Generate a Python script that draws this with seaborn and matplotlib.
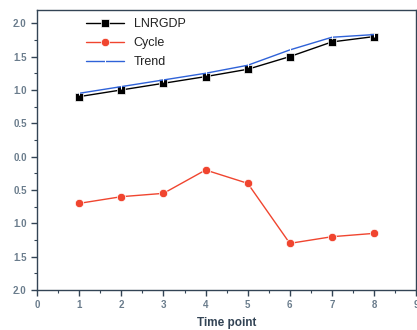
import pandas as pd
import numpy as np
import matplotlib.pyplot as plt
import seaborn as sns

# valores
time_point = [1, 2, 3, 4, 5, 6, 7, 8]
lnrgdp = [0.90, 1.00, 1.10, 1.20, 1.31, 1.50, 1.72, 1.80]
cycle = [-0.70, -0.60, -0.55, -0.20, -0.40, -1.30, -1.20, -1.15]
trend = [0.95, 1.05, 1.15, 1.25, 1.37, 1.60, 1.79, 1.83]

y_ticks = [2.0, 1.5, 1.0, 0.5, 0.0, -0.5, -1.0, -1.5, -2.0]
y_tick_labels = ["2.0", "1.5", "1.0", "0.5", "0.0", "0.5", "1.0", "1.5", "2.0"]
x_ticks = [0, 1, 2, 3, 4, 5, 6, 7, 8, 9]

sns.set_style("ticks")
plt.rcParams["font.family"] = ["Liberation Sans", "DejaVu Sans"]

fig = plt.figure(figsize=(4.17, 3.3), dpi=100)
ax = fig.add_axes([0.089, 0.121, 0.909, 0.849])

# una llamada por serie (marcadores distintos)
sns.lineplot(x=time_point, y=lnrgdp, color="black", marker="s", markersize=5.5,
             markeredgewidth=0.5, linewidth=1.0, label="LNRGDP", ax=ax)
sns.lineplot(x=time_point, y=cycle, color="#f0452f", marker="o", markersize=6,
             markeredgewidth=0.5, linewidth=1.0, label="Cycle", ax=ax)
sns.lineplot(x=time_point, y=trend, color="#2f62d8", marker="|", markersize=3,
             linewidth=1.0, label="Trend", ax=ax)

ax.set_xlim(0, 9)
ax.set_ylim(-2.0, 2.2)
ax.set_xticks(x_ticks)
ax.set_yticks(y_ticks)
ax.set_yticklabels(y_tick_labels)
ax.set_xticks(np.arange(0.5, 9, 1.0), minor=True)
ax.set_yticks(np.arange(-1.75, 2.1, 0.5), minor=True)
ax.tick_params(axis="both", which="major", length=4, width=1.0, labelsize=7,
               labelcolor="#6a7c8c", color="#334455")
ax.tick_params(axis="both", which="minor", length=2.5, width=0.8, color="#334455")
for lab in ax.get_xticklabels() + ax.get_yticklabels():
    lab.set_fontweight("bold")
ax.set_xlabel("Time point", fontsize=8.5, fontweight="bold", color="#334455", labelpad=5)
ax.set_ylabel("")
for s in ax.spines.values():
    s.set_color("#334455")
    s.set_linewidth(1.0)

leg = ax.legend(loc="upper left", bbox_to_anchor=(0.1, 1.01), frameon=False,
                fontsize=9, handlelength=3.0, labelspacing=0.55)
for t in leg.get_texts():
    t.set_color("#222222")

fig.savefig("out.png", dpi=100)
